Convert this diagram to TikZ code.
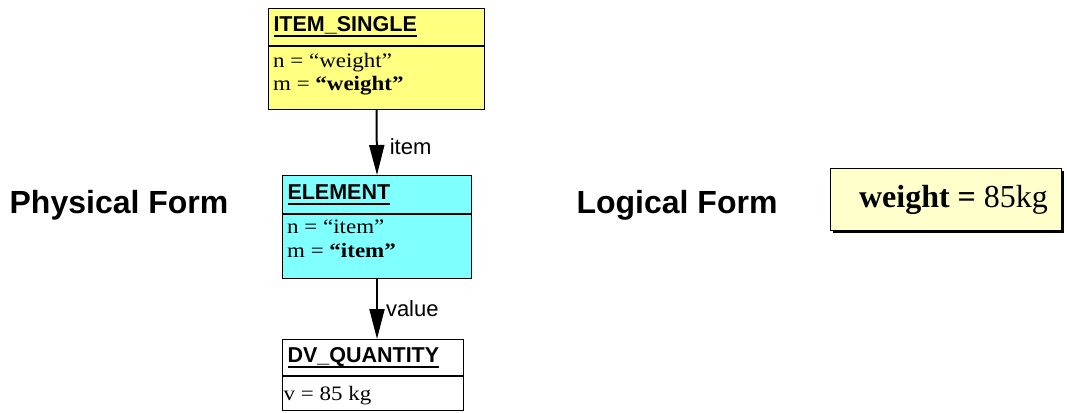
\documentclass[tikz,border=0pt]{standalone}
\usepackage{fontspec}
\setmainfont{Liberation Serif}
\setsansfont{Liberation Sans}
\newfontfamily\bodyfont[FakeStretch=1.12]{Liberation Serif}
\usepackage{xcolor}
\definecolor{itemyellow}{rgb}{1, 1, 0.5}
\definecolor{elemcyan}{rgb}{0.5, 1, 1}
\definecolor{paleyellow}{rgb}{1, 1, 0.8}
\usepackage{tikz}
\usetikzlibrary{positioning, arrows.meta, shadows}
\newcommand{\ulined}[1]{\setbox0\hbox{#1}\leavevmode\rlap{\rule[-5.5pt]{\wd0}{2pt}}\box0}
\tikzset{
	classhead/.style={draw=black, line width=1pt, anchor=north west, inner sep=5pt, align=left,
	text width=#1, font=\fontsize{21.5}{22}\selectfont\sffamily\bfseries}
}
\tikzset{
	classbody/.style={draw=black, line width=1pt, anchor=north west, minimum width=#1},
	bodytext/.style={anchor=base west, inner sep=0pt, font=\fontsize{20.5}{20.5}\selectfont\bodyfont}
}
\tikzset{
	link/.style={line width=2pt, -{Triangle[length=30pt, width=15pt]}},
	linklabel/.style={anchor=west, inner sep=0pt, font=\fontsize{22}{22}\selectfont\sffamily},
	formlabel/.style={anchor=base, inner sep=0pt, font=\fontsize{32}{32}\selectfont\sffamily\bfseries}
}

\begin{document}
\begin{tikzpicture}[x=1pt, y=-1pt]
		\useasboundingbox (0, 0) rectangle (1067, 412);

		% item single
		\node[classhead=206pt, fill=itemyellow, minimum height=37pt] (itemhead) at (268, 8) {\ulined{ITEM\_SINGLE}};
		\node[classbody=216pt, fill=itemyellow, minimum height=63pt] (itembody) at (itemhead.south west) {};
		\node[bodytext] (itemn) at ([xshift=5pt, yshift=-21.5pt]itembody.north west) {n = “weight”};
		\node[bodytext] (itemm) at ([yshift=-23pt]itemn.base west) {m = \textbf{“weight”}};

		% element
		\node[classhead=179pt, fill=elemcyan, minimum height=38pt] (elemhead) at (282, 175) {\ulined{ELEMENT}};
		\node[classbody=189pt, fill=elemcyan, minimum height=64pt] (elembody) at (elemhead.south west) {};
		\node[bodytext] (elemn) at ([xshift=5pt, yshift=-19.5pt]elembody.north west) {n = “item”};
		\node[bodytext] (elemm) at ([yshift=-24pt]elemn.base west) {m = \textbf{“item”}};

		% quantity
		\node[classhead=171pt, fill=white, minimum height=36pt] (dvhead) at (282, 339) {\ulined{DV\_QUANTITY}};
		\node[classbody=181pt, fill=white, minimum height=34pt] (dvbody) at (dvhead.south west) {};
		\node[bodytext] (dvv) at ([xshift=1.5pt, yshift=-24pt]dvbody.north west) {v = 85 kg};

		% links
		\draw[link] (itembody.south) -- (elemhead.north) node[linklabel, pos=0.56, xshift=12pt] (itemlabel) {item};
		\draw[link] (elembody.south) -- (elembody.south |- dvhead.north) node[linklabel, pos=0.49, xshift=8pt] (valuelabel) {value};

		% forms
		\node[formlabel] (physical) at (119, 213) {Physical Form};
		\node[formlabel] (logicalform) at (677, 213) {Logical Form};

		% logical value
		\node[draw=black, line width=1.5pt, fill=paleyellow, minimum width=231pt, minimum height=62pt,
			drop shadow={shadow xshift=2.5pt, shadow yshift=-2.5pt, fill=black, opacity=1},
			font=\fontsize{32}{32}\selectfont] (logical) at (946, 199.5) {\hspace*{15pt}\textbf{weight =} 85kg};

	\end{tikzpicture}
\end{document}
